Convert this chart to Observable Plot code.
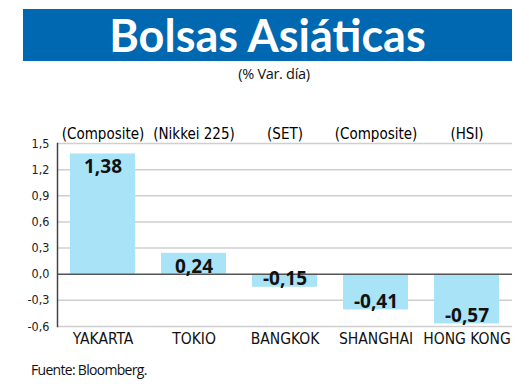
<!DOCTYPE html>
<html><head><meta charset="utf-8">
<script src="https://cdn.jsdelivr.net/npm/d3@7"></script>
<script src="https://cdn.jsdelivr.net/npm/@observablehq/plot@0.6"></script>
<style>
body{margin:0;background:#fff;width:520px;height:390px;position:relative;overflow:hidden;font-family:"DejaVu Sans",sans-serif;}
#hdr{position:absolute;left:23px;top:9px;width:489px;height:52px;background:#0067b1;color:#fff;font-family:Lato,"Open Sans",sans-serif;font-weight:700;font-size:45px;line-height:52px;text-align:center;}
#sub{position:absolute;left:0;top:64px;width:548px;text-align:center;font-family:"Open Sans",sans-serif;font-size:14.5px;color:#111;letter-spacing:-0.3px;}
#chart{position:absolute;left:0;top:100px;}
#chart svg text{font-stretch:condensed;}
#chart svg g.val text{font-stretch:normal;}
#src{position:absolute;left:31px;top:360px;font-family:"Open Sans",sans-serif;font-size:14px;letter-spacing:-0.7px;color:#111;}
</style></head>
<body>
<div id="hdr">Bolsas Asiáticas</div>
<div id="sub">(% Var. día)</div>
<div id="chart"></div>
<div id="src">Fuente: Bloomberg.</div>
<script>
const markets = ["YAKARTA","TOKIO","BANGKOK","SHANGHAI","HONG KONG"];
const indices = ["(Composite)","(Nikkei 225)","(SET)","(Composite)","(HSI)"];
const values = [1.38, 0.24, -0.15, -0.41, -0.57];
const yTicks = [-0.6,-0.3,0,0.3,0.6,0.9,1.2,1.5];

const data = markets.map((m,i)=>({market:m, index:indices[i], value:values[i]}));
const fmt1 = v => v.toFixed(1).replace(".",",");
const fmt2 = v => v.toFixed(2).replace(".",",");
const pos = data.filter(d=>d.value>=0), neg = data.filter(d=>d.value<0);

const chart = Plot.plot({
  width:520, height:260,
  marginLeft:57, marginRight:8, marginTop:43, marginBottom:34,
  x:{domain:markets, paddingInner:0.286, paddingOuter:0.143, axis:null},
  y:{domain:[-0.6,1.5], axis:null},
  style:{fontFamily:'"DejaVu Sans Condensed","DejaVu Sans",sans-serif', background:"transparent"},
  marks:[
    Plot.ruleY(yTicks.filter(t=>t!==0), {stroke:"#cfcfcf", strokeWidth:1.5}),
    Plot.barY(data, {x:"market", y:"value", fill:"#a9e3f7"}),
    Plot.ruleY([0], {stroke:"#555", strokeWidth:1.5}),
    Plot.frame({anchor:"left", stroke:"#444", strokeWidth:1.5}),
    Plot.text(yTicks, {x:null, y:d=>d, frameAnchor:"left", dx:-8, textAnchor:"end", text:fmt1, fontSize:12.5, fill:"#222"}),
    Plot.text(data, {x:"market", text:"index", frameAnchor:"top", dy:-15, fontSize:15, fontWeight:500, fill:"#000"}),
    Plot.text(data, {x:"market", text:"market", frameAnchor:"bottom", dy:17, fontSize:15.5, fill:"#111"}),
    Plot.text(pos, {x:"market", y:"value", text:d=>fmt2(d.value), lineAnchor:"top", dy:6, fontSize:19, fontWeight:"bold", fontFamily:"Open Sans, sans-serif", fill:"#111", className:"val"}),
    Plot.text(neg, {x:"market", y:"value", text:d=>fmt2(d.value), lineAnchor:"bottom", dy:-2, fontSize:19, fontWeight:"bold", fontFamily:"Open Sans, sans-serif", fill:"#111", className:"val"})
  ]
});
document.getElementById("chart").appendChild(chart);
</script>
</body></html>
